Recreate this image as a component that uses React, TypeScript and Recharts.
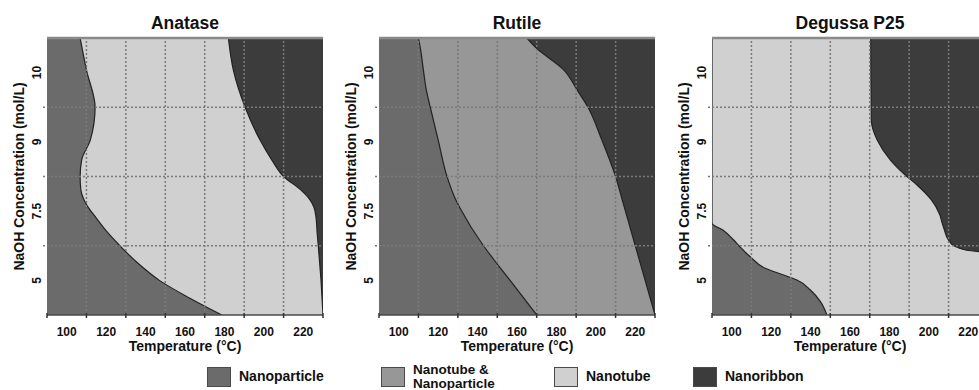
import React from 'react';
import { AreaChart, Area, XAxis, YAxis, CartesianGrid, ReferenceLine, Label } from 'recharts';

const FONT = '"Liberation Sans", Arial, Helvetica, sans-serif';

const COLOR_PARTICLE = '#6b6b6b';
const COLOR_MIXED = '#979797';
const COLOR_TUBE = '#d0d0d0';
const COLOR_RIBBON = '#3c3c3c';

// y positions are band coordinates (0 = bottom edge, 4 = top edge); bands labelled by concentration
const concLabels = ['5', '7.5', '9', '10'];
const xTickLabels = [100, 120, 140, 160, 180, 200, 220];
const xGridLines = [110, 130, 150, 170, 190, 210];
const xEdgeTicks = [90, 230];
const yGridLines = [1, 2, 3];

// Anatase
const anataseLevels = [0, 0.25, 0.5, 0.75, 1.0, 1.2, 1.4, 1.55, 1.66, 1.8, 2.0, 2.24, 2.53, 3.0, 3.54, 4.0];
const anataseParticleEdge = [178.7, 162, 147, 136, 127, 120.5, 115, 111, 108.8, 107.2, 106.8, 107.6, 112, 114.4, 110, 106.8];
const anataseRibbonEdge = [230, 229.5, 229, 228.3, 227.6, 227, 226.5, 225.5, 223.5, 219, 210, 204, 198, 190.5, 184.5, 182];

// Rutile
const rutileLevels = [0, 0.5, 0.75, 1.0, 1.55, 1.66, 2.0, 2.53, 3.0, 3.25, 3.54, 3.85, 4.0];
const rutileParticleEdge = [170, 156.5, 149.6, 143, 131, 129, 124.5, 120, 116, 114, 112.5, 111, 110];
const rutileRibbonEdge = [230, 225, 222.5, 220, 214.5, 213.4, 210, 203, 196, 190.5, 183.7, 170, 165];

// Degussa P25
const degussaLevels = [0, 0.192, 0.361, 0.505, 0.578, 0.674, 0.842, 0.903, 0.914, 0.939, 0.996, 1.083, 1.227, 1.324, 1.444, 1.661, 1.877, 2.022, 2.238, 2.527, 2.816, 4.0];
const degussaParticleEdge = [148.3, 145, 139.9, 133.1, 126.3, 117, 109.4, 107, 106.6, 105.8, 103.8, 101, 95.5, 90, 90, 90, 90, 90, 90, 90, 90, 90];
const degussaRibbonEdge = [230, 230, 230, 230, 230, 230, 230, 230, 225.6, 218.6, 213, 209.9, 207.9, 206.8, 205.6, 201.3, 194, 188, 180.5, 173.8, 170.8, 170.5];

const xTickAll = [...xEdgeTicks, ...xTickLabels, ...xGridLines].sort((a, b) => a - b);
const yTickAll = [0, 0.5, 1, 1.5, 2, 2.5, 3, 3.5, 4];

const renderXTick = (props: any) => {
  const { x, y, payload } = props;
  const val = payload.value;
  if (xTickLabels.includes(val)) {
    return (
      <text x={x} y={y + 21} textAnchor="middle" fontSize={12} fontWeight="bold" fill="#111" fontFamily={FONT}>
        {val}
      </text>
    );
  }
  return <line x1={x} x2={x} y1={y - 2} y2={y + 3} stroke="#333" strokeWidth={1.5} />;
};

const renderYTick = (props: any) => {
  const { x, y, payload } = props;
  const v = payload.value;
  if (v % 1 === 0.5) {
    return (
      <text
        transform={`translate(${x - 10.5},${y}) rotate(-90)`}
        textAnchor="middle"
        dominantBaseline="central"
        fontSize={12}
        fontWeight="bold"
        fill="#111"
        fontFamily={FONT}
      >
        {concLabels[Math.floor(v)]}
      </text>
    );
  }
  if (v > 0 && v < 4) {
    return <line x1={x - 4} x2={x} y1={y} y2={y} stroke="#777" strokeWidth={1.5} strokeDasharray="2 2" />;
  }
  return <g />;
};

const renderXTitle = (props: any) => {
  const vb = props.viewBox || {};
  return (
    <text x={vb.x + vb.width / 2} y={vb.y + 36} textAnchor="middle" fontSize={14} fontWeight="bold" fill="#111" fontFamily={FONT}>
      Temperature (°C)
    </text>
  );
};

const renderYTitle = (props: any) => {
  const vb = props.viewBox || {};
  const cx = vb.x + vb.width - 28;
  const cy = vb.y + vb.height / 2;
  return (
    <text
      transform={`translate(${cx},${cy}) rotate(-90)`}
      textAnchor="middle"
      dominantBaseline="central"
      fontSize={14}
      fontWeight="bold"
      fill="#111"
      fontFamily={FONT}
    >
      NaOH Concentration (mol/L)
    </text>
  );
};

type PanelProps = {
  title: string;
  left: number;
  levels: number[];
  leftEdge: number[];
  rightEdge: number[];
  background: string;
  leftColor: string;
};

const Panel = ({ title, left, levels, leftEdge, rightEdge, background, leftColor }: PanelProps) => {
  const data = levels.map((v, i) => ({ v, left: leftEdge[i], right: rightEdge[i] }));
  return (
    <div style={{ position: 'absolute', left, top: 0, width: 330, height: 390 }}>
      <div
        style={{
          position: 'absolute',
          left: 47,
          top: 13,
          width: 276,
          textAlign: 'center',
          fontFamily: FONT,
          fontWeight: 'bold',
          fontSize: 17.5,
          lineHeight: '20px',
          color: '#111',
        }}
      >
        {title}
      </div>
      <AreaChart width={330} height={390} data={data} layout="vertical" margin={{ top: 38, right: 7, bottom: 15, left: 5 }}>
        <CartesianGrid horizontal={false} vertical={false} fill={background} stroke="none" />
        <XAxis
          type="number"
          domain={[90, 230]}
          ticks={xTickAll}
          interval={0}
          allowDataOverflow
          tickSize={0}
          tickMargin={0}
          tickLine={false}
          axisLine={{ stroke: '#4a4a4a', strokeWidth: 1.5 }}
          tick={renderXTick}
          height={60}
        >
          <Label content={renderXTitle} />
        </XAxis>
        <YAxis
          type="number"
          dataKey="v"
          domain={[0, 4]}
          ticks={yTickAll}
          interval={0}
          reversed
          allowDataOverflow
          tickSize={0}
          tickMargin={0}
          tickLine={false}
          axisLine={false}
          tick={renderYTick}
          width={42}
        >
          <Label content={renderYTitle} />
        </YAxis>
        <Area
          dataKey="left"
          type="monotone"
          fill={leftColor}
          fillOpacity={1}
          stroke="#222"
          strokeWidth={1.2}
          dot={false}
          activeDot={false}
          isAnimationActive={false}
        />
        <Area
          dataKey="right"
          type="monotone"
          baseValue="dataMax"
          fill={COLOR_RIBBON}
          fillOpacity={1}
          stroke="#222"
          strokeWidth={1.2}
          dot={false}
          activeDot={false}
          isAnimationActive={false}
        />
        {xGridLines.map((g) => (
          <ReferenceLine key={`x${g}`} x={g} stroke="#7a7a7a" strokeWidth={1.5} strokeDasharray="2 2" />
        ))}
        {yGridLines.map((g) => (
          <ReferenceLine key={`y${g}`} y={g} stroke="#7a7a7a" strokeWidth={1.5} strokeDasharray="2 2" />
        ))}
        <ReferenceLine y={4} stroke="#8a8a8a" strokeWidth={2.5} />
      </AreaChart>
    </div>
  );
};

const legendItems = [
  { name: ['Nanoparticle'], color: COLOR_PARTICLE, swatchLeft: 207, textLeft: 239 },
  { name: ['Nanotube &', 'Nanoparticle'], color: COLOR_MIXED, swatchLeft: 381, textLeft: 413 },
  { name: ['Nanotube'], color: COLOR_TUBE, swatchLeft: 554, textLeft: 586 },
  { name: ['Nanoribbon'], color: COLOR_RIBBON, swatchLeft: 693, textLeft: 725 },
];

export default function App() {
  return (
    <div
      style={{
        position: 'absolute',
        left: 0,
        top: 0,
        width: 979,
        height: 390,
        overflow: 'hidden',
        background: '#fff',
        fontFamily: FONT,
      }}
    >
      <Panel
        title="Anatase"
        left={0}
        levels={anataseLevels}
        leftEdge={anataseParticleEdge}
        rightEdge={anataseRibbonEdge}
        background={COLOR_TUBE}
        leftColor={COLOR_PARTICLE}
      />
      <Panel
        title="Rutile"
        left={332}
        levels={rutileLevels}
        leftEdge={rutileParticleEdge}
        rightEdge={rutileRibbonEdge}
        background={COLOR_MIXED}
        leftColor={COLOR_PARTICLE}
      />
      <Panel
        title="Degussa P25"
        left={665}
        levels={degussaLevels}
        leftEdge={degussaParticleEdge}
        rightEdge={degussaRibbonEdge}
        background={COLOR_TUBE}
        leftColor={COLOR_PARTICLE}
      />
      {legendItems.map((it) => (
        <React.Fragment key={it.name.join(' ')}>
          <div
            style={{
              position: 'absolute',
              left: it.swatchLeft,
              top: 367,
              width: 22,
              height: 18,
              background: it.color,
              border: '1.5px solid #4a4a4a',
            }}
          />
          <div
            style={{
              position: 'absolute',
              left: it.textLeft,
              top: it.name.length > 1 ? 363 : 369,
              fontFamily: FONT,
              fontWeight: 'bold',
              fontSize: it.name.length > 1 ? 13.5 : 14,
              lineHeight: it.name.length > 1 ? '13.5px' : '15px',
              color: '#111',
              whiteSpace: 'nowrap',
            }}
          >
            {it.name.map((n) => (
              <div key={n}>{n}</div>
            ))}
          </div>
        </React.Fragment>
      ))}
    </div>
  );
}
